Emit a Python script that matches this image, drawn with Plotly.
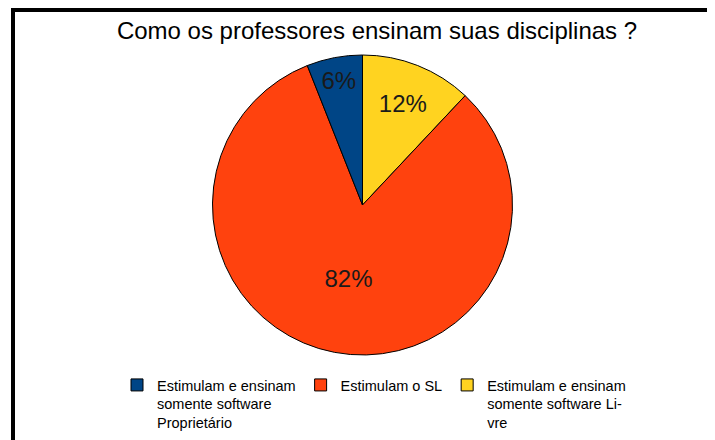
import plotly.graph_objects as go

# dados do grafico (ordem das fatias no sentido horario a partir do topo)
categorias = [
    "Estimulam e ensinam<br>somente software Li-<br>vre",
    "Estimulam o SL",
    "Estimulam e ensinam<br>somente software<br>Proprietário",
]
valores = [12, 82, 6]
cores = ["#ffd320", "#ff420e", "#004586"]

titulo = "Como os professores ensinam suas disciplinas ?"

W, H = 715, 440
OFF = 8  # margem padrao do body da pagina


def px(x):
    return (x - OFF) / W


def py(y):
    return 1 - (y - OFF) / H


fig = go.Figure()
fig.add_trace(go.Pie(
    labels=categorias,
    values=valores,
    sort=False,
    direction="clockwise",
    rotation=0,
    marker=dict(colors=cores, line=dict(color="#000000", width=1)),
    texttemplate="%{percent:.0%}",
    textposition="inside",
    insidetextorientation="horizontal",
    textfont=dict(family="Liberation Sans", size=24, color="#1a1a1a"),
    hoverinfo="label+percent",
    domain=dict(x=[px(212), px(513)], y=[py(355), py(55)]),
))

fig.update_layout(
    width=W, height=H,
    margin=dict(l=0, r=0, t=0, b=0),
    paper_bgcolor="white",
    plot_bgcolor="white",
    font=dict(family="Liberation Sans", color="#000000"),
    title=dict(
        text=titulo, x=px(377), xanchor="center",
        y=py(31), yanchor="middle",
        font=dict(family="Liberation Sans", size=24, color="#000000"),
    ),
    uniformtext=dict(minsize=24, mode="show"),
    legend=dict(
        orientation="h",
        x=px(374), xanchor="center",
        y=py(369), yanchor="top",
        font=dict(family="Liberation Sans", size=14.5, color="#000000"),
        itemwidth=30,
        valign="top",
        traceorder="reversed",
    ),
    shapes=[dict(
        type="rect", xref="paper", yref="paper",
        x0=px(13), x1=1.1, y0=-0.1, y1=py(10),
        line=dict(color="#000000", width=4),
        fillcolor="rgba(0,0,0,0)",
    )],
)

fig.write_html("out.html")
